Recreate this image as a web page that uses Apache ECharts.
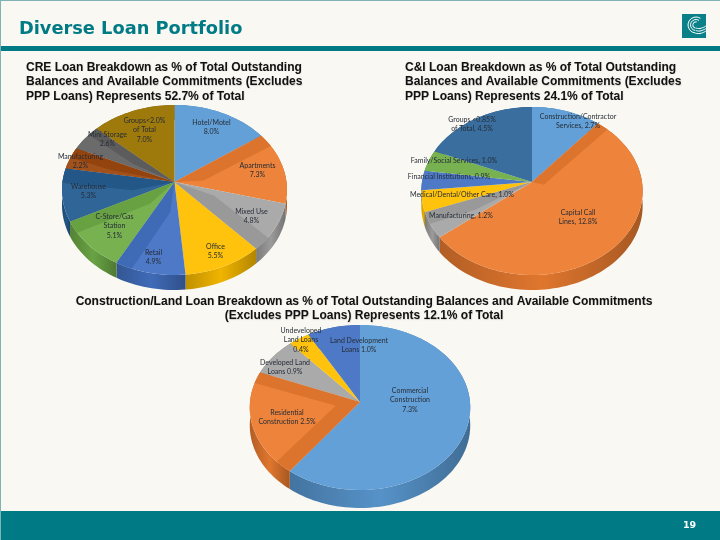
<!DOCTYPE html>
<html><head><meta charset="utf-8">
<style>html,body{margin:0;padding:0;background:#faf8f3}#c{width:720px;height:540px}</style>
<script src="https://cdn.jsdelivr.net/npm/echarts@6/dist/echarts.min.js"></script>
</head><body><div id="c"></div>
<script>
// ---- data ----
const creCategories = ['Hotel/Motel\n8.0%','Apartments\n7.3%','Mixed Use\n4.8%','Office\n5.5%','Retail\n4.9%','C-Store/Gas\nStation\n5.1%','Warehouse\n5.3%','Manufacturing\n2.2%','Mini Storage\n2.6%','Groups<2.0%\nof Total\n7.0%'];
const creValues = [8.0,7.3,4.8,5.5,4.9,5.1,5.3,2.2,2.6,7.0];
const ciCategories = ['Construction/Contractor\nServices, 2.7%','Capital Call\nLines, 12.8%','Manufacturing, 1.2%','Medical/Dental/Other Care, 1.0%','Financial Institutions, 0.9%','Family/Social Services, 1.0%','Groups <0.85%\nof Total, 4.5%'];
const ciValues = [2.7,12.8,1.2,1.0,0.9,1.0,4.5];
const landCategories = ['Commercial\nConstruction\n7.3%','Residential\nConstruction 2.5%','Developed Land\nLoans 0.9%','Undeveloped\nLand Loans\n0.4%','Land Development\nLoans 1.0%'];
const landValues = [7.3,2.5,0.9,0.4,1.0];

// ---- style / layout ----
const creColors = ['#5b9bd5','#ed7d31','#a5a5a5','#ffc000','#4472c4','#70ad47','#255e91','#9e480e','#636363','#997300'];
const ciColors = ['#5b9bd5','#ed7d31','#a5a5a5','#ffc000','#4472c4','#70ad47','#2f6699'];
const landColors = ['#5b9bd5','#ed7d31','#a5a5a5','#ffc000','#4472c4'];
const TEAL = '#007b85';
const pies = [
 {name:'CRE',cats:creCategories,vals:creValues,cols:creColors,ax:174.5,ay:182,B:112,back:77,front:93,depth:15,
  labels:[[37,-55],[83,-12],[77,34],[41,69],[-21,75],[-60,44],[-86,9],[-94,-21],[-67,-43],[-30,-52]],
  bands:[[],[['s',9]],[['e',9]],[],[['e',8]],[['e',8]],[['e',10]],[['e',7]],[['e',6]],[]]},
 {name:'CI',cats:ciCategories,vals:ciValues,cols:ciColors,ax:532,ay:182,B:110,back:75,front:93,depth:15,
  labels:[[46,-61],[46,35],[-71,34],[-70,13],[-83,-5],[-78,-21],[-60,-58]],
  bands:[[],[['s',7]],[['e',8]],[],[],[],[]]},
 {name:'Land',cats:landCategories,vals:landValues,cols:landColors,ax:360,ay:402,B:110,back:77,front:88,depth:18,
  labels:[[50,-2],[-73,15],[-75,-35],[-59,-62],[-1,-57]],
  bands:[[],[['s',9],['e',8]],[],[],[]]}
];
function mix(hex,t,target){
  const n=parseInt(hex.slice(1),16),r=n>>16,g=(n>>8)&255,b=n&255,c=target;
  return 'rgb('+[r,g,b].map(v=>Math.round(v+(c-v)*t)).join(',')+')';
}
function project(p,deg,lift){
  const a=deg*Math.PI/180,u=Math.sin(a),v=Math.cos(a);
  const k=(p.front-p.back)/(p.front+p.back),A=p.back*(1+k);
  const s=1+k*v;
  return [p.ax+p.B*u/s,p.ay-A*v/s+(lift||0)];
}
function arc(p,d0,d1,lift){
  const pts=[],n=Math.max(2,Math.ceil(Math.abs(d1-d0)/2));
  for(let i=0;i<=n;i++)pts.push(project(p,d0+(d1-d0)*i/n,lift));
  return pts;
}
function series(p){
  const total=p.vals.reduce((a,b)=>a+b,0);
  return {
    type:'custom',name:p.name,coordinateSystem:'none',silent:true,animation:false,
    data:p.vals.map((v,i)=>({value:[v,p.vals.slice(0,i).reduce((a,b)=>a+b,0)],name:p.cats[i]})),
    renderItem(params,api){
      const i=params.dataIndex,v=api.value(0),c=api.value(1);
      const d0=c/total*360,d1=(c+v)/total*360,col=p.cols[i];
      const top=arc(p,d0,d1,0),bot=arc(p,d0,d1,p.depth).reverse();
      const kids=[];
      kids.push({type:'polygon',z2:1,shape:{points:top.concat(bot)},
        style:{fill:{type:'linear',x:0,y:0,x2:1,y2:0,colorStops:[{offset:0,color:mix(col,.25,0)},{offset:.5,color:mix(col,.06,0)},{offset:1,color:mix(col,.3,0)}]}}});
      kids.push({type:'polygon',z2:2,shape:{points:[[p.ax,p.ay]].concat(top)},style:{fill:mix(col,.05,255)}});
      p.bands[i].forEach(b=>{
        const e=b[0]==='s'?d0:d1, f=b[0]==='s'?Math.min(d1,d0+b[1]):Math.max(d0,d1-b[1]);
        const R0=project(p,e),R1=project(p,f);
        const t=Math.min(.9,1.3*b[1]/(d1-d0));
        const inner=[p.ax+(R1[0]-R0[0])*.9+(R0[0]-p.ax)*t,p.ay+(R1[1]-R0[1])*.9+(R0[1]-p.ay)*t];
        kids.push({type:'polygon',z2:3,shape:{points:[[p.ax,p.ay]].concat(arc(p,e,f,0),[inner])},style:{fill:mix(col,.07,0)}});
      });
      kids.push({type:'text',z2:10,x:p.ax+p.labels[i][0],y:p.ay+p.labels[i][1],
        style:{text:p.cats[i],align:'center',verticalAlign:'middle',font:'7px Lato',lineHeight:9.5,fill:'#262c36'}});
      return {type:'group',children:kids};
    }
  };
}
const heading={fontFamily:'"Liberation Sans"',fontWeight:'bold',fontSize:12,color:'#111',lineHeight:14.5,textShadowColor:'rgba(0,0,0,.15)',textShadowBlur:1,textShadowOffsetX:.5,textShadowOffsetY:.5};
const chart=echarts.init(document.getElementById('c'),null,{renderer:'canvas'});
chart.setOption({
  backgroundColor:'#faf8f3',animation:false,
  title:[
   {text:'Diverse Loan Portfolio',left:19,top:20,padding:0,textStyle:{fontFamily:'"DejaVu Sans"',fontWeight:'bold',fontSize:17.8,color:TEAL}},
   {text:'CRE Loan Breakdown as % of Total Outstanding\nBalances and Available Commitments (Excludes\nPPP Loans) Represents 52.7% of Total',left:26,top:60,padding:0,textStyle:heading},
   {text:'C&I Loan Breakdown as % of Total Outstanding\nBalances and Available Commitments (Excludes\nPPP Loans) Represents 24.1% of Total',left:405,top:60,padding:0,textStyle:heading},
   {text:'Construction/Land Loan Breakdown as % of Total Outstanding Balances and Available Commitments\n(Excludes PPP Loans) Represents 12.1% of Total',left:364,top:294,padding:0,textAlign:'center',textStyle:heading}
  ],
  graphic:[
   {type:'rect',z:-1,shape:{x:0,y:46,width:720,height:5},style:{fill:TEAL}},
   {type:'rect',z:-1,shape:{x:0,y:511,width:720,height:29},style:{fill:TEAL}},
   {type:'rect',z:-1,shape:{x:0,y:0,width:720,height:1},style:{fill:'#7fb3b5'}},
   {type:'rect',z:-1,shape:{x:0,y:0,width:1,height:540},style:{fill:'#7fb3b5'}},
   {type:'rect',z:-1,shape:{x:682,y:14,width:24,height:24},style:{fill:'#0a8089'}},
   {type:'arc',shape:{cx:696,cy:25,r:8,startAngle:1.7,endAngle:5.3},style:{stroke:'#fff',fill:'none',lineWidth:1}},
   {type:'arc',shape:{cx:696,cy:25,r:5.5,startAngle:1.7,endAngle:5.3},style:{stroke:'#fff',fill:'none',lineWidth:1}},
   {type:'arc',shape:{cx:696,cy:25,r:3.2,startAngle:1.7,endAngle:5.0},style:{stroke:'#fff',fill:'none',lineWidth:1}},
   {type:'polyline',shape:{points:[[696,28],[700,28.5],[706,26]],smooth:.5},style:{stroke:'#fff',fill:'none',lineWidth:1}},
   {type:'polyline',shape:{points:[[696,30.5],[700,31],[706,28.5]],smooth:.5},style:{stroke:'#fff',fill:'none',lineWidth:1}},
   {type:'polyline',shape:{points:[[695,33],[700,33.5],[706,31]],smooth:.5},style:{stroke:'#fff',fill:'none',lineWidth:1}},
   {type:'text',x:683,y:521,style:{text:'19',font:'bold 9.5px "DejaVu Sans"',fill:'#fff'}}
  ],
  series:pies.map(series)
});
</script></body></html>
